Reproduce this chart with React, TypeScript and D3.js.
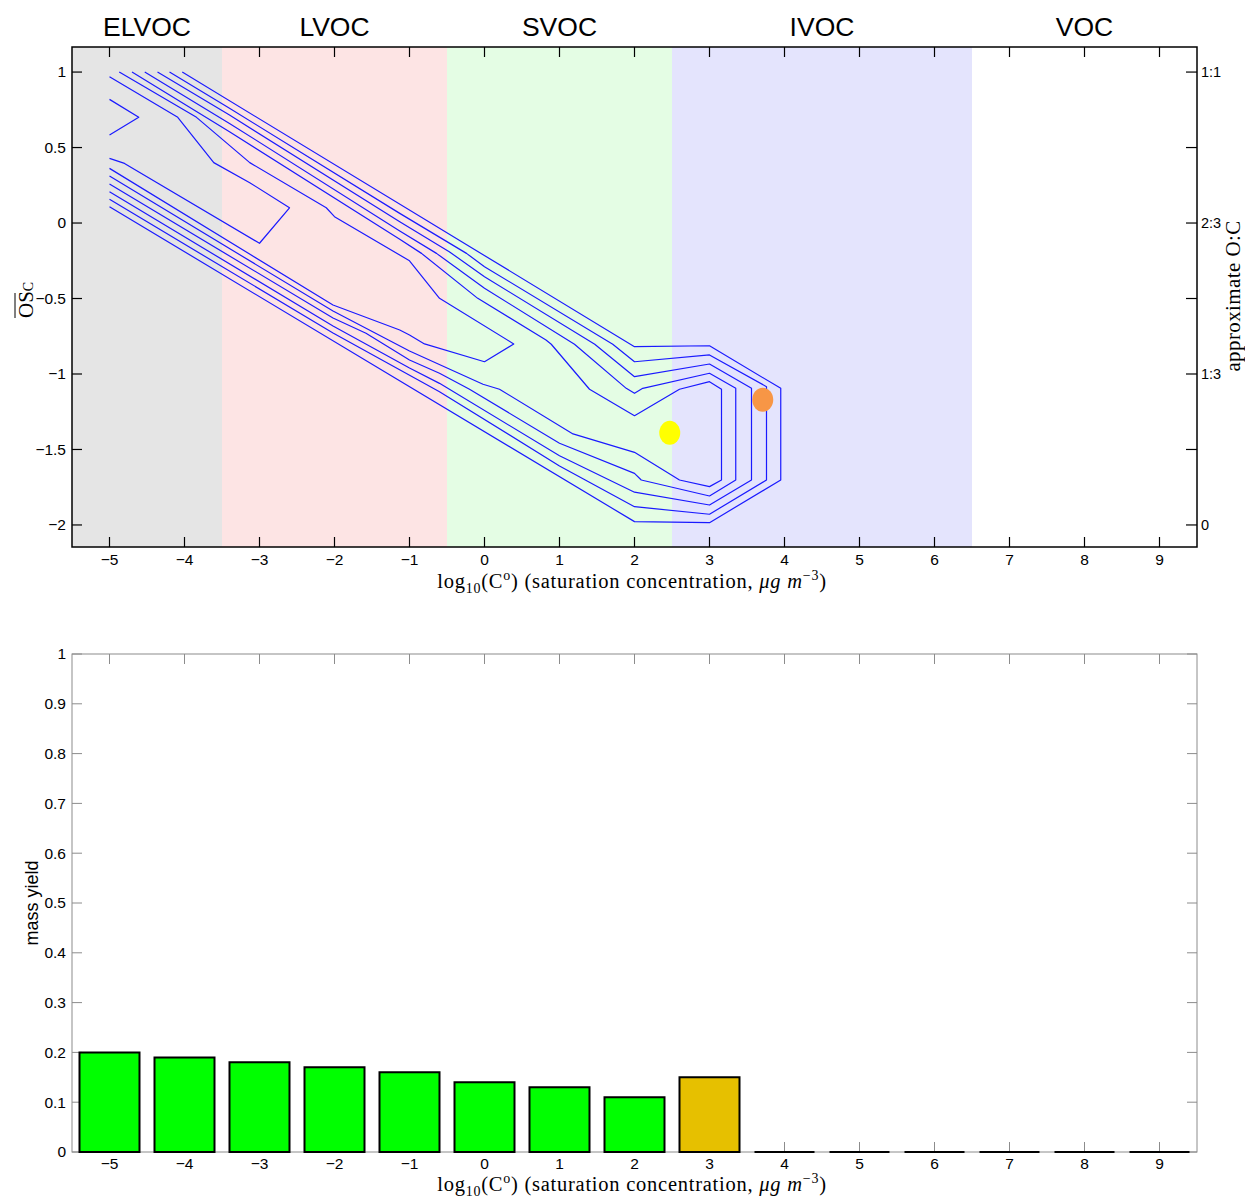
import React from "react";
import * as d3 from "d3";

// ---------- data ----------
const logCstar = [-5, -4, -3, -2, -1, 0, 1, 2, 3, 4, 5, 6, 7, 8, 9];
const massYield = [0.2, 0.19, 0.18, 0.17, 0.16, 0.14, 0.13, 0.11, 0.15, 0, 0, 0, 0, 0, 0];
const barFill = ["#00ff00", "#00ff00", "#00ff00", "#00ff00", "#00ff00", "#00ff00", "#00ff00", "#00ff00", "#e6c000", "#00ff00", "#00ff00", "#00ff00", "#00ff00", "#00ff00", "#00ff00"];

const volatilityClasses = ["ELVOC", "LVOC", "SVOC", "IVOC", "VOC"];
const classLower = [-5.5, -3.5, -0.5, 2.5, 6.5];
const classUpper = [-3.5, -0.5, 2.5, 6.5, 9.5];
const classColors = ["#e5e5e5", "#fde4e4", "#e4fde4", "#e4e4fd", "#ffffff"];

const osTicks = [-2, -1.5, -1, -0.5, 0, 0.5, 1];
const ocTickOS = [1, 0, -1, -2];
const ocTickLabels = ["1:1", "2:3", "1:3", "0"];
const yieldTicks = d3.range(0, 11).map((i) => i / 10);

// contour polylines, [log10 C*, OSc]
const contourL1: [number, number][] = [
  [-4.03, 1.0], [2, -0.819], [3, -0.813], [3.95, -1.095], [3.95, -1.702], [3, -1.985], [2, -1.978], [-5, 0.108],
];
const contourL2: [number, number][] = [
  [-4.2, 1.0], [-3.4, 0.76], [-1.13, 0.064], [-0.24, -0.201], [0, -0.289], [1.71, -0.803], [2, -0.919], [3, -0.874],
  [3.76, -1.084], [3.76, -1.702], [3, -1.929], [2, -1.879], [1, -1.609], [-0.6, -1.117], [-2.02, -0.728], [-5, 0.157],
];
const contourL3: [number, number][] = [
  [-4.36, 1.0], [-3.4, 0.715], [-1.13, 0.009], [-0.47, -0.19], [0, -0.356], [1.47, -0.803], [2, -1.018], [3, -0.934],
  [3.56, -1.095], [3.56, -1.702], [3, -1.868], [2, -1.783], [1, -1.541], [-0.6, -1.062], [-1, -0.96], [-2.02, -0.682], [-5, 0.207],
];
const contourL4: [number, number][] = [
  [-4.53, 1.0], [-3.4, 0.66], [-1.13, -0.053], [-0.64, -0.201], [0, -0.432], [1.2, -0.803], [1.89, -1.095], [2, -1.128],
  [2.11, -1.095], [3, -0.995], [3.35, -1.095], [3.35, -1.702], [3, -1.808], [2.09, -1.702], [2, -1.658], [1, -1.459],
  [-0.2, -1.101], [-0.6, -0.995], [-1, -0.907], [-1.58, -0.73], [-2.02, -0.629], [-5, 0.258],
];
const contourL5: [number, number][] = [
  [-4.7, 1.0], [-3.4, 0.605], [-1.13, -0.108], [-0.84, -0.201], [-0.09, -0.499], [0.82, -0.775], [0.89, -0.803],
  [1.4, -1.101], [2, -1.276], [2.6, -1.101], [3, -1.051], [3.16, -1.101], [3.16, -1.702], [3, -1.746], [2.6, -1.702],
  [2, -1.519], [1.18, -1.397], [0.2, -1.101], [-0.02, -1.068], [-1, -0.848], [-2.02, -0.583], [-5, 0.311],
];
const contourL6: [number, number][] = [
  [-4.87, 1.0], [-3.84, 0.7], [-3.13, 0.4], [-2.11, 0.101], [-2, 0.042], [-1, -0.25], [-0.6, -0.499], [0.39, -0.801],
  [0, -0.919], [-0.8, -0.801], [-1, -0.742], [-1.13, -0.709], [-2.02, -0.543], [-5, 0.362],
];
const contourL7: [number, number][] = [
  [-5, 0.969], [-4.09, 0.7], [-3.61, 0.4], [-3.13, 0.267], [-2.6, 0.101], [-3, -0.134], [-4.8, 0.395], [-5, 0.428],
];
const contourL8: [number, number][] = [[-5, 0.819], [-4.61, 0.7], [-5, 0.583]];
const contours = [contourL1, contourL2, contourL3, contourL4, contourL5, contourL6, contourL7, contourL8];

const markerLogC = [2.47, 3.71];
const markerOS = [-1.39, -1.17];
const markerColors = ["#ffff00", "#f79646"];

// ---------- layout ----------
const W = 1245;
const H = 1198;
const L = 72;
const R = 1197;
const T1 = 47;
const B1 = 547;
const T2 = 654;
const B2 = 1152;

const sans = "Liberation Sans, Arial, Helvetica, sans-serif";
const serif = "Liberation Serif, Times New Roman, serif";
const fmt = d3.format("~g");

function XLabel({ y }: { y: number }) {
  return (
    <text x={632} y={y} textAnchor="middle" fontFamily={serif} fontSize={20.5} letterSpacing={0.75} fill="#000">
      log<tspan fontSize={14} dy={5}>10</tspan>
      <tspan dy={-5}>(C</tspan>
      <tspan fontSize={14} dy={-8}>o</tspan>
      <tspan dy={8}>) (saturation concentration, </tspan>
      <tspan fontStyle="italic">μg m</tspan>
      <tspan fontSize={14} dy={-8}>−3</tspan>
      <tspan dy={8}>)</tspan>
    </text>
  );
}

export default function App() {
  const x = d3.scaleLinear().domain([-5.5, 9.5]).range([L, R]);
  const yOS = d3.scaleLinear().domain([-2.146, 1.166]).range([B1, T1]);
  const yY = d3.scaleLinear().domain([0, 1]).range([B2, T2]);
  const line = d3
    .line<[number, number]>()
    .x((d) => x(d[0]))
    .y((d) => yOS(d[1]));
  const barW = x(0.8) - x(0);
  const barPath = (v: number, val: number) => {
    const x0 = x(v) - barW / 2;
    const x1 = x(v) + barW / 2;
    const y0 = yY(0);
    const y1 = yY(val);
    return `M${x0},${y0}H${x1}V${y1}H${x0}Z`;
  };

  return (
    <div style={{ position: "absolute", left: 0, top: 0 }}>
      <svg width={W} height={H} style={{ display: "block", background: "#fff" }}>
        {/* ---------- top panel ---------- */}
        {volatilityClasses.map((c, i) => (
          <rect key={c} x={x(classLower[i])} y={T1} width={x(classUpper[i]) - x(classLower[i])} height={B1 - T1} fill={classColors[i]} />
        ))}
        {volatilityClasses.map((c, i) => (
          <text key={"l" + c} x={x((classLower[i] + classUpper[i]) / 2)} y={36} textAnchor="middle" fontFamily={sans} fontSize={26.5} fill="#000">
            {c}
          </text>
        ))}
        <g fill="none" stroke="#1a1aff" strokeWidth={1.2} strokeLinejoin="round">
          {contours.map((c, i) => (
            <path key={i} d={line(c) || ""} />
          ))}
        </g>
        {markerLogC.map((m, i) => (
          <ellipse key={i} cx={x(m)} cy={yOS(markerOS[i])} rx={10.5} ry={12} fill={markerColors[i]} />
        ))}
        <rect x={L} y={T1} width={R - L} height={B1 - T1} fill="none" stroke="#000" strokeWidth={1.5} />
        {logCstar.map((v) => (
          <g key={"tx" + v}>
            <line x1={x(v)} x2={x(v)} y1={B1} y2={B1 - 10} stroke="#000" strokeWidth={1.2} />
            <line x1={x(v)} x2={x(v)} y1={T1} y2={T1 + 10} stroke="#000" strokeWidth={1.2} />
            <text x={x(v)} y={565} textAnchor="middle" fontFamily={sans} fontSize={15.5} fill="#000">
              {fmt(v)}
            </text>
          </g>
        ))}
        {osTicks.map((v) => (
          <g key={"ty" + v}>
            <line x1={L} x2={L + 10} y1={yOS(v)} y2={yOS(v)} stroke="#000" strokeWidth={1.2} />
            <line x1={R} x2={R - 11} y1={yOS(v)} y2={yOS(v)} stroke="#000" strokeWidth={1.2} />
            <text x={L - 6} y={yOS(v)} dy="0.35em" textAnchor="end" fontFamily={sans} fontSize={15.5} fill="#000">
              {fmt(v)}
            </text>
          </g>
        ))}
        {ocTickOS.map((v, i) => (
          <text key={"oc" + i} x={R + 4} y={yOS(v)} dy="0.35em" textAnchor="start" fontFamily={sans} fontSize={14.5} fill="#000">
            {ocTickLabels[i]}
          </text>
        ))}
        <XLabel y={588} />
        <g transform="translate(33,300) rotate(-90)">
          <text x={-18} y={0} fontFamily={serif} fontSize={21} fill="#000">
            OS<tspan fontSize={14}>C</tspan>
          </text>
          <line x1={-18} x2={7} y1={-18} y2={-18} stroke="#000" strokeWidth={1} />
        </g>
        <text transform="translate(1240,296) rotate(-90)" textAnchor="middle" fontFamily={serif} fontSize={21} letterSpacing={0.4} fill="#000">
          approximate O:C
        </text>

        {/* ---------- bottom panel ---------- */}
        <rect x={L} y={T2} width={R - L} height={B2 - T2} fill="#fff" stroke="#8c8c8c" strokeWidth={1} />
        {yieldTicks.map((v) => (
          <g key={"yt" + v}>
            <line x1={L} x2={L + 10} y1={yY(v)} y2={yY(v)} stroke="#8c8c8c" />
            <line x1={R} x2={R - 10} y1={yY(v)} y2={yY(v)} stroke="#8c8c8c" />
            <text x={L - 6} y={yY(v)} dy="0.35em" textAnchor="end" fontFamily={sans} fontSize={15.5} fill="#000">
              {fmt(v)}
            </text>
          </g>
        ))}
        {logCstar.map((v) => (
          <g key={"bx" + v}>
            <line x1={x(v)} x2={x(v)} y1={B2} y2={B2 - 10} stroke="#8c8c8c" />
            <line x1={x(v)} x2={x(v)} y1={T2} y2={T2 + 10} stroke="#8c8c8c" />
            <text x={x(v)} y={1169} textAnchor="middle" fontFamily={sans} fontSize={15.5} fill="#000">
              {fmt(v)}
            </text>
          </g>
        ))}
        {logCstar.map((v, i) => (
          <path key={"bar" + v} d={barPath(v, massYield[i])} fill={barFill[i]} stroke="#000" strokeWidth={2} />
        ))}
        <text transform="translate(38,903) rotate(-90)" textAnchor="middle" fontFamily={sans} fontSize={18} fill="#000">
          mass yield
        </text>
        <XLabel y={1191} />
      </svg>
    </div>
  );
}
